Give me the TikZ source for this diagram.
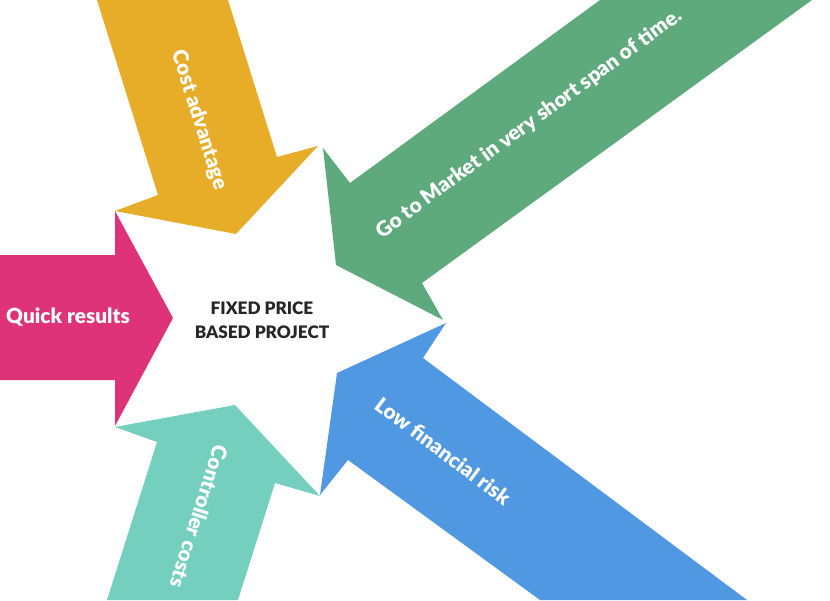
\documentclass[tikz,border=0pt]{standalone}
\usepackage{fontspec}
\setmainfont{Lato}[BoldFont={Lato Bold}]
\newfontfamily\latoblack{Lato Black}
\definecolor{cyellow}{RGB}{232,173,40}
\definecolor{cpink}{RGB}{222,50,121}
\definecolor{cteal}{RGB}{116,207,190}
\definecolor{cblue}{RGB}{81,152,226}
\definecolor{cgreen}{RGB}{94,170,124}
\definecolor{ctext}{RGB}{38,38,38}
\begin{document}
\begin{tikzpicture}[x=1pt,y=-1pt,
  lbl/.style={text=white,font=\fontsize{20.8}{22}\selectfont\latoblack,inner sep=0pt},
  centre/.style={text=ctext,font=\fontsize{17.2}{24}\selectfont\latoblack,align=center,inner sep=0pt}]
\useasboundingbox (0,0) rectangle (830,600);
\clip (0,0) rectangle (830,600);
% yellow
\fill[cyellow] (97,0) -- (228,0) -- (277,157) -- (318,146) -- (236,234) -- (115,211) -- (158,195) -- cycle;
% pink
\fill[cpink] (0,255) -- (115,255) -- (115,211) -- (173,318) -- (115,426) -- (115,380) -- (0,380) -- cycle;
% teal
\fill[cteal] (107,600) -- (157,442) -- (115,427) -- (235,405) -- (320,496) -- (275,483) -- (238,600) -- cycle;
% blue
\fill[cblue] (540,600) -- (348,460) -- (320,495) -- (337,373) -- (446,323) -- (423,358) -- (747,600) -- cycle;
% green
\fill[cgreen] (600,0) -- (350,183) -- (323,148) -- (336,265) -- (443,320) -- (422,283) -- (812,0) -- cycle;
% labels
\node[lbl,rotate=-72.6] (ya) at (199,120) {Cost advantage};
\node[lbl,anchor=base] (pa) at (68,323) {Quick results};
\node[lbl,rotate=-107.6] (ta) at (199,517) {Controller costs};
\node[lbl,rotate=-36.8] (ba) at (443,451) {Low financial risk};
\node[lbl,rotate=36.2] (ga) at (529,124) {Go to Market in very short span of time.};
\node[centre] (c) at (262,320) {FIXED PRICE\\BASED PROJECT};
\end{tikzpicture}
\end{document}
